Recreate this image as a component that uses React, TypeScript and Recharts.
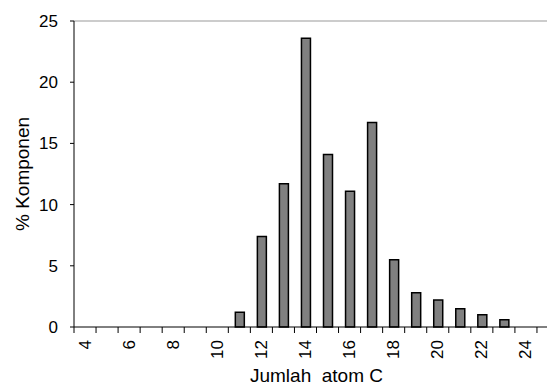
import React from 'react';
import { BarChart, Bar, XAxis, YAxis, ReferenceLine } from 'recharts';

const carbonNumbers = [11, 12, 13, 14, 15, 16, 17, 18, 19, 20, 21, 22, 23];
const percentValues = [1.2, 7.4, 11.7, 23.6, 14.1, 11.1, 16.7, 5.5, 2.8, 2.2, 1.5, 1.0, 0.6];
const xTickLabels = [4, 6, 8, 10, 12, 14, 16, 18, 20, 22, 24];
const yTicks = [0, 5, 10, 15, 20, 25];
const xMin = 4;
const xMax = 25;

const data = carbonNumbers.map((c, i) => ({ c, v: percentValues[i] }));

const xTicks: number[] = [];
for (let k = xMin; k <= xMax + 1; k++) {
  xTicks.push(k - 0.5);
  if (xTickLabels.includes(k)) xTicks.push(k);
}

const FONT = '"Liberation Sans", Arial, sans-serif';

const XTick = (props: any) => {
  const { x, y, payload } = props;
  const v = payload.value as number;
  if (v % 1 !== 0) {
    return <line x1={x} x2={x} y1={y} y2={y + 6} stroke="#000" strokeWidth={1} />;
  }
  const ty = y + 13;
  return (
    <text
      x={x}
      y={ty}
      transform={`rotate(-90, ${x}, ${ty})`}
      textAnchor="end"
      dominantBaseline="central"
      fontSize={17}
      fontFamily={FONT}
      fill="#000"
    >
      {v}
    </text>
  );
};

const YLabel = (props: any) => {
  const { viewBox } = props;
  const cx = viewBox.x + 22;
  const cy = viewBox.y + viewBox.height / 2;
  return (
    <text
      x={cx}
      y={cy}
      transform={`rotate(-90, ${cx}, ${cy})`}
      textAnchor="middle"
      dominantBaseline="central"
      fontSize={19}
      fontFamily={FONT}
      fill="#000"
    >
      % Komponen
    </text>
  );
};

const XLabel = (props: any) => {
  const { viewBox } = props;
  const cx = viewBox.x + viewBox.width / 2;
  return (
    <text
      x={cx}
      y={viewBox.y + 55}
      textAnchor="middle"
      fontSize={19}
      fontFamily={FONT}
      fill="#000"
    >
      {'Jumlah\u00A0 atom C'}
    </text>
  );
};

export default function App() {
  return (
    <div style={{ position: 'absolute', left: 0, top: 0, width: 547, height: 385, overflow: 'hidden', background: '#fff' }}>
      <BarChart
        width={570}
        height={385}
        data={data}
        margin={{ top: 21, right: 11, bottom: 0, left: 0 }}
      >
        <ReferenceLine y={25} stroke="#999" strokeWidth={1} />
        <XAxis
          dataKey="c"
          type="number"
          domain={[xMin - 0.5, xMax + 0.5]}
          ticks={xTicks}
          interval={0}
          allowDataOverflow
          height={58}
          tickSize={0}
          tickMargin={0}
          tickLine={false}
          axisLine={{ stroke: '#000', strokeWidth: 1 }}
          tick={<XTick />}
          label={<XLabel />}
        />
        <YAxis
          type="number"
          domain={[0, 25]}
          ticks={yTicks}
          interval={0}
          width={74}
          tickSize={4}
          tickMargin={12}
          axisLine={{ stroke: '#000', strokeWidth: 1 }}
          tickLine={{ stroke: '#000' }}
          tick={{ fontSize: 17, fill: '#000', fontFamily: FONT }}
          label={<YLabel />}
        />
        <Bar
          dataKey="v"
          fill="#808080"
          stroke="#000"
          strokeWidth={1.5}
          barSize={9}
          isAnimationActive={false}
        />
      </BarChart>
    </div>
  );
}
